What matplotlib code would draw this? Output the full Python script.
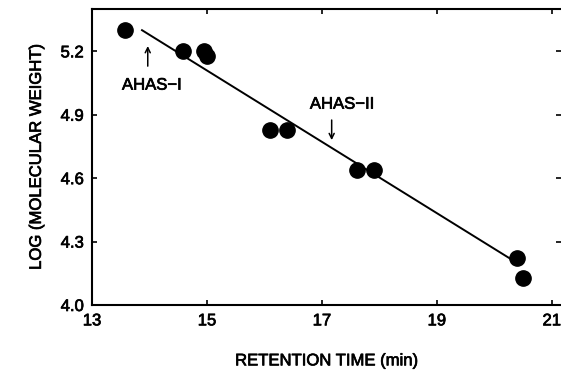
import matplotlib
matplotlib.use("Agg")
import matplotlib.pyplot as plt
import matplotlib.patheffects as pe

plt.rcParams['font.family'] = ['Liberation Sans', 'DejaVu Sans']
thick = [pe.withStroke(linewidth=0.5, foreground='black')]

# Data
ret_time = [13.57, 14.58, 14.95, 15.0, 16.1, 16.4, 17.61, 17.9, 20.4, 20.5]
log_mw = [5.30, 5.20, 5.20, 5.18, 4.83, 4.83, 4.64, 4.64, 4.22, 4.13]
fit_x = [13.87, 20.36]
fit_y = [5.30, 4.205]
x_ticks = [13, 15, 17, 19, 21]
y_ticks = [4.0, 4.3, 4.6, 4.9, 5.2]
y_ticklabels = ["4.0", "4.3", "4.6", "4.9", "5.2"]

fig = plt.figure(figsize=(5.61, 3.77), dpi=100)
ax = fig.add_axes([0.164, 0.191, 0.836, 0.785])

ax.plot(fit_x, fit_y, color='black', lw=1.4, zorder=2)
ax.plot(ret_time, log_mw, 'o', color='black', markersize=11, zorder=3)

ax.set_xlim(13, 21.16)
ax.set_ylim(4.0, 5.4)
ax.set_xticks(x_ticks)
ax.set_yticks(y_ticks)
ax.set_yticklabels(y_ticklabels)
ax.tick_params(direction='in', length=3.5, width=1.2, top=True, right=True,
               labelsize=12, pad=6)
for lab in ax.get_xticklabels() + ax.get_yticklabels():
    lab.set_path_effects(thick)
for s in ['left', 'bottom', 'top']:
    ax.spines[s].set_linewidth(1.5)
ax.spines['right'].set_visible(False)

xl = ax.set_xlabel("RETENTION TIME (min)", fontsize=12, labelpad=18)
yl = ax.set_ylabel("LOG (MOLECULAR WEIGHT)", fontsize=12, labelpad=12)
xl.set_path_effects(thick)
yl.set_path_effects(thick)

# Annotations
arrow_props = dict(arrowstyle='->', lw=1.1, color='black', shrinkA=0, shrinkB=0,
                   mutation_scale=9)
ax.annotate("", xy=(13.97, 5.225), xytext=(13.97, 5.13), arrowprops=arrow_props)
t1 = ax.text(14.04, 5.04, "AHAS\u2212I", ha='center', va='center', fontsize=12)
t2 = ax.text(17.35, 4.95, "AHAS\u2212II", ha='center', va='center', fontsize=12)
t1.set_path_effects(thick)
t2.set_path_effects(thick)
ax.annotate("", xy=(17.17, 4.78), xytext=(17.17, 4.875), arrowprops=arrow_props)

fig.savefig("out.png", dpi=100)
